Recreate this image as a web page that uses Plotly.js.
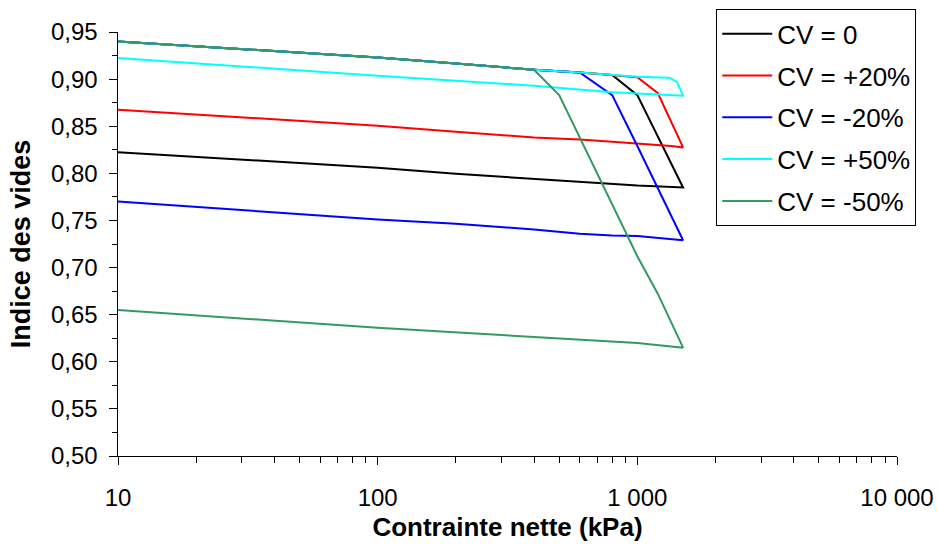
<!DOCTYPE html>
<html>
<head>
<meta charset="utf-8">
<script src="https://cdn.plot.ly/plotly-3.0.1.min.js"></script>
<style>html,body{margin:0;padding:0;background:#fff;}#chart{width:938px;height:545px;}</style>
</head>
<body>
<div id="chart"></div>
<script>
// Series names
const seriesNames = ["CV = 0", "CV = +20%", "CV = -20%", "CV = +50%", "CV = -50%"];
const seriesColors = ["#000000", "#FF0000", "#0000FF", "#00FFFF", "#339966"];

// CV = 0 (loading then unloading)
const xCV0 = [10, 100, 200, 400, 600, 800, 1000, 1500, 1000, 600, 400, 200, 100, 10];
const yCV0 = [0.940, 0.923, 0.9165, 0.910, 0.907, 0.9045, 0.883, 0.785, 0.787, 0.791, 0.7947, 0.7995, 0.806, 0.8225];

// CV = +20%
const xCVp20 = [10, 100, 200, 400, 600, 800, 1000, 1200, 1500, 1350, 1000, 800, 600, 400, 200, 100, 10];
const yCVp20 = [0.940, 0.923, 0.9165, 0.910, 0.907, 0.9045, 0.902, 0.885, 0.8275, 0.829, 0.832, 0.8335, 0.836, 0.838, 0.8442, 0.8505, 0.8675];

// CV = -20%
const xCVm20 = [10, 100, 200, 400, 600, 800, 1000, 1500, 1000, 800, 600, 400, 200, 100, 10];
const yCVm20 = [0.940, 0.923, 0.9165, 0.910, 0.907, 0.883, 0.829, 0.729, 0.7335, 0.734, 0.736, 0.7405, 0.7465, 0.751, 0.770];

// CV = +50%
const xCVp50 = [10, 100, 200, 400, 600, 800, 1000, 1330, 1420, 1500, 1000, 800, 400, 200, 100, 10];
const yCVp50 = [0.940, 0.923, 0.9165, 0.910, 0.907, 0.9045, 0.9025, 0.9015, 0.897, 0.8824, 0.885, 0.886, 0.893, 0.898, 0.9036, 0.9224];

// CV = -50%
const xCVm50 = [10, 100, 200, 400, 500, 1000, 1200, 1500, 1000, 600, 400, 200, 100, 10];
const yCVm50 = [0.940, 0.923, 0.9165, 0.910, 0.883, 0.712, 0.672, 0.615, 0.620, 0.6235, 0.626, 0.631, 0.636, 0.655];

// Axis ticks
const xTickVals = [10, 100, 1000, 10000];
const xTickText = ["10", "100", "1 000", "10 000"];
const yTickVals = [0.50, 0.55, 0.60, 0.65, 0.70, 0.75, 0.80, 0.85, 0.90, 0.95];
const yTickText = ["0,50", "0,55", "0,60", "0,65", "0,70", "0,75", "0,80", "0,85", "0,90", "0,95"];

const xs = [xCV0, xCVp20, xCVm20, xCVp50, xCVm50];
const ys = [yCV0, yCVp20, yCVm20, yCVp50, yCVm50];

const traces = seriesNames.map((n, i) => ({
  x: xs[i], y: ys[i], name: n, type: 'scatter', mode: 'lines',
  legendgroup: 'g' + i,
  line: {color: seriesColors[i], width: 2}
}));

// minor ticks
const xMinor = [];
for (let d = 10; d < 10000; d *= 10) for (let k = 2; k <= 9; k++) xMinor.push(d * k);
const yMinor = [];
for (let i = 0; i < yTickVals.length - 1; i++) yMinor.push((yTickVals[i] + yTickVals[i + 1]) / 2);

const layout = {
  width: 938, height: 545,
  margin: {l: 118, r: 41, t: 32, b: 89, autoexpand: false},
  paper_bgcolor: '#fff', plot_bgcolor: '#fff',
  font: {family: 'Liberation Sans, Arial, sans-serif', size: 24, color: '#000'},
  showlegend: true,
  legend: {
    x: 0.768, y: 1.0535, xanchor: 'left', yanchor: 'top',
    bordercolor: '#000', borderwidth: 1, bgcolor: '#fff',
    font: {size: 26}, traceorder: 'grouped', tracegroupgap: 5,
    itemwidth: 50
  },
  xaxis: {
    type: 'log', range: [1, 4],
    tickmode: 'array', tickvals: xTickVals, ticktext: xTickText,
    ticks: 'outside', ticklen: 8, tickcolor: '#000', tickwidth: 1,
    ticklabelstandoff: 12,
    showline: true, linecolor: '#000', linewidth: 1,
    showgrid: false, zeroline: false,
    minor: {tickmode: 'array', tickvals: xMinor, ticks: 'outside', ticklen: 6, tickcolor: '#000', showgrid: false},
    title: {text: 'Contrainte nette (kPa)', font: {size: 26, weight: 'bold'}, standoff: 8}
  },
  yaxis: {
    range: [0.5, 0.95],
    automargin: true,
    tickmode: 'array', tickvals: yTickVals, ticktext: yTickText,
    ticks: 'outside', ticklen: 8, tickcolor: '#000', tickwidth: 1,
    ticklabelstandoff: 6,
    showline: true, linecolor: '#000', linewidth: 1.5,
    showgrid: false, zeroline: false,
    minor: {tickmode: 'array', tickvals: yMinor, ticks: 'outside', ticklen: 5, tickcolor: '#000', showgrid: false},
    title: {text: 'Indice des vides', font: {size: 27, weight: 'bold'}, standoff: 12}
  }
};

Plotly.newPlot('chart', traces, layout, {displayModeBar: false, staticPlot: true});
</script>
</body>
</html>
